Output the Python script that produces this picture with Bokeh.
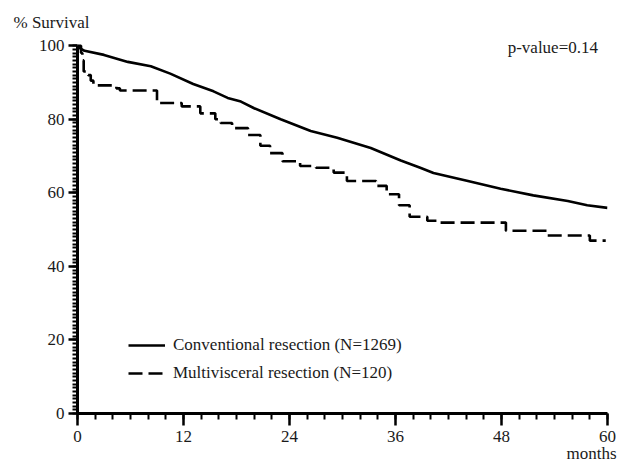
from bokeh.plotting import figure
from bokeh.models import Range1d, FixedTicker, Label, Legend, LegendItem, Title
from bokeh.embed import file_html
from bokeh.resources import INLINE

# Conventional resection (N=1269) - Kaplan-Meier estimate (months, % survival)
conv_months = [0, 0.3, 0.8, 3.0, 5.7, 8.3, 10.5, 13.1, 15.4, 17.0, 18.5, 20.0, 23.0,
               26.4, 29.4, 33.2, 36.6, 38.8, 40.3, 44.2, 47.9, 51.6, 55.5, 57.7, 60.0]
conv_surv = [100, 99.3, 98.6, 97.5, 95.6, 94.4, 92.4, 89.6, 87.6, 85.8, 84.8, 83.0, 80.0,
             76.8, 75.0, 72.2, 68.8, 66.8, 65.4, 63.2, 61.1, 59.3, 57.8, 56.6, 55.9]

# Multivisceral resection (N=120) - step function (event times, survival after)
multi_months = [0, 0.4, 0.55, 0.7, 1.2, 1.5, 1.8, 4.4, 4.8, 9.0, 11.8, 13.9, 15.6, 16.2,
                17.5, 19.3, 20.7, 21.8, 23.2, 25.2, 27.0, 29.0, 30.5, 33.8, 35.0, 36.4,
                37.6, 39.6, 40.8, 48.5, 53.2, 58.0, 59.8]
multi_surv = [100, 98.0, 96.0, 93.0, 92.0, 90.5, 89.2, 88.4, 87.8, 84.4, 83.5, 81.6, 80.0,
              79.0, 77.6, 75.7, 72.8, 70.8, 68.6, 67.3, 66.8, 65.5, 63.2, 61.9, 59.6, 56.6,
              53.5, 52.4, 51.9, 49.7, 48.4, 47.0, 47.0]

x_ticks = [0, 12, 24, 36, 48, 60]
x_minor = list(range(0, 61, 2))
y_ticks = [0, 20, 40, 60, 80, 100]
y_minor = list(range(0, 101, 1))

labels = ["Conventional resection (N=1269)", "Multivisceral resection (N=120)"]

FONT = "Liberation Serif"
FS = "17px"
TXT = "#1a1a1a"

p = figure(width=625, height=467, output_backend="svg", toolbar_location=None,
           x_range=Range1d(0, 60), y_range=Range1d(0, 102.5),
           min_border_left=77, min_border_right=18, min_border_top=36, min_border_bottom=54)
p.outline_line_color = None
p.xgrid.visible = False
p.ygrid.visible = False
p.background_fill_color = "white"

p.title.text = "% Survival"
p.title.align = "left"
p.title.offset = -64
p.title.text_font = FONT
p.title.text_font_size = FS
p.title.text_font_style = "normal"
p.title.text_color = TXT

r1 = p.line(conv_months, conv_surv, line_color="black", line_width=2.6)
r2 = p.step(multi_months, multi_surv, mode="after", line_color="black", line_width=2.6,
            line_dash="14 6")

for ax in (p.xaxis[0], p.yaxis[0]):
    ax.axis_line_width = 3
    ax.axis_line_color = "black"
    ax.major_tick_line_color = "black"
    ax.minor_tick_line_color = "black"
    ax.major_tick_line_width = 2.5
    ax.minor_tick_line_width = 2
    ax.major_tick_in = 0
    ax.minor_tick_in = 0
    ax.major_label_text_font = FONT
    ax.major_label_text_font_size = FS
    ax.major_label_text_color = TXT

p.xaxis[0].ticker = FixedTicker(ticks=x_ticks, minor_ticks=x_minor)
p.xaxis[0].major_tick_out = 12
p.xaxis[0].minor_tick_out = 6
p.xaxis[0].major_label_standoff = 5

p.yaxis[0].ticker = FixedTicker(ticks=y_ticks, minor_ticks=y_minor)
p.yaxis[0].bounds = (0, 100)
p.yaxis[0].major_tick_out = 9
p.yaxis[0].minor_tick_out = 5
p.yaxis[0].major_label_standoff = 4

legend = Legend(items=[LegendItem(label=labels[0], renderers=[r1]),
                       LegendItem(label=labels[1], renderers=[r2])],
                location=(51, 30), glyph_width=37, glyph_height=20, label_height=20,
                label_standoff=8, spacing=8, padding=0, margin=0,
                border_line_alpha=0, background_fill_alpha=0,
                label_text_font=FONT, label_text_font_size=FS, label_text_color=TXT)
p.add_layout(legend)

p.add_layout(Label(x=48.7, y=99.4, text="p-value=0.14", text_font=FONT, text_font_size=FS,
                   text_color=TXT, text_baseline="middle", text_align="left"))

months_title = Title(text="months", align="right", offset=-9, standoff=-5,
                     text_font=FONT, text_font_size=FS, text_font_style="normal",
                     text_color=TXT)
p.add_layout(months_title, "below")

open("out.html", "w").write(file_html(p, INLINE))
